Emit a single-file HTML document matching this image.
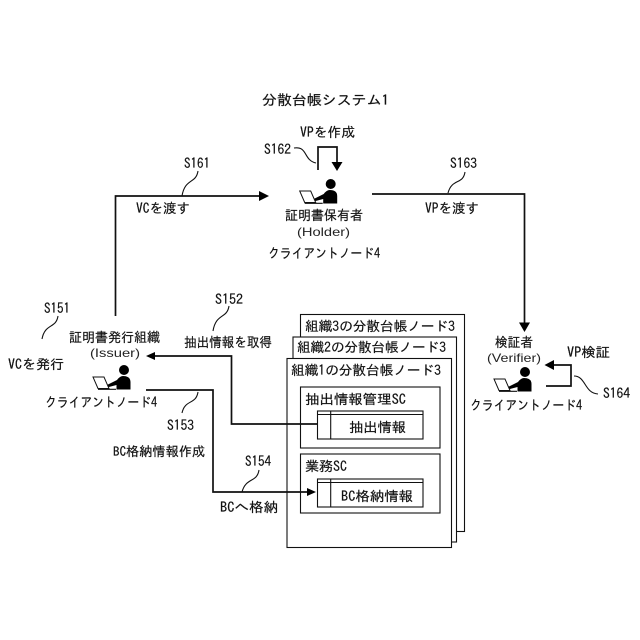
<!DOCTYPE html>
<html lang="ja">
<head>
<meta charset="utf-8">
<style>
html,body{margin:0;padding:0;background:#fff;width:640px;height:640px;overflow:hidden}
svg{display:block}
text{font-family:"IPAGothic","Noto Sans CJK JP","Liberation Sans",sans-serif;font-size:13.5px;fill:#111;stroke:#111;stroke-width:.2}
text.w{font-family:"Liberation Sans","Noto Sans CJK JP",sans-serif;font-size:12px;fill:#222;stroke:none}
.l{fill:none;stroke:#111;stroke-width:1.7}
.t{fill:none;stroke:#111;stroke-width:1.1}
.b{fill:#fff;stroke:#111;stroke-width:1.1}
</style>
</head>
<body>
<svg width="640" height="640" viewBox="0 0 640 640" xmlns="http://www.w3.org/2000/svg">
<defs>
<g id="p">
<circle cx="0" cy="0" r="5" fill="#000"/>
<path d="M-1,6 Q6.5,6 6.5,12 L6.5,19.5 L-7.5,19.5 L-7.5,15 L-17,17.5 L-17,15 L-7,10 Q-4,6 -1,6Z" fill="#000"/>
<path d="M-31,7 L-20,7 L-15,18.5 L-26,18.5 Z" fill="#fff" stroke="#111" stroke-width="1"/>
<path d="M-26,19.3 L-8,19.3" stroke="#111" stroke-width="1.2"/>
</g>
</defs>
<rect width="640" height="640" fill="#fff"/>

<!-- ledger boxes -->
<rect class="b" x="300.5" y="314.5" width="164" height="217"/>
<rect class="b" x="293" y="337" width="163.5" height="205"/>
<rect class="b" x="287" y="358.5" width="164.5" height="189"/>
<rect class="b" x="300.5" y="387" width="139.5" height="61"/>
<rect class="b" x="300.5" y="454" width="139.5" height="59"/>
<rect class="b" x="317.5" y="411" width="105.5" height="28"/>
<rect class="b" x="317.5" y="479" width="105.5" height="28"/>
<path class="t" d="M317.5,414.5H423M330.7,411V439M317.5,482.5H423M330.7,479V507"/>

<!-- connectors -->
<path class="l" d="M115.5,316V196H260"/>
<path d="M269,196L259,191V201Z" fill="#000"/>
<path class="l" d="M372,194H524.5V324"/>
<path d="M524.5,332L519,322.5H530Z" fill="#000"/>
<path class="l" d="M318,170V147H337V164"/>
<path d="M337,171L331.5,162H342.5Z" fill="#000"/>
<path class="l" d="M546,386H571V365H552"/>
<path d="M544.5,365L554,360V370Z" fill="#000"/>
<path class="l" d="M317,424H231.5V356H153"/>
<path d="M146,356L155,352V360Z" fill="#000"/>
<path class="l" d="M146,390H213V492H308"/>
<path d="M316,492L307,488V496Z" fill="#000"/>

<!-- leader squiggles -->
<path class="t" d="M198,171C196,184 185,178 182,196"/>
<path class="t" d="M294,148C308,146 303,160 316,163"/>
<path class="t" d="M465,172C463,185 452,178 448,193"/>
<path class="t" d="M574,376C586,376 584,393 598,394"/>
<path class="t" d="M58,316C56,329 45,323 42,339"/>
<path class="t" d="M229,306C227,319 216,313 213,331"/>
<path class="t" d="M198,392C196,405 185,399 182,413"/>
<path class="t" d="M259,470C257,483 246,477 242,492"/>

<!-- people -->
<use href="#p" x="330.7" y="184"/>
<use href="#p" x="124" y="370"/>
<use href="#p" x="525" y="372"/>

<!-- labels -->
<text x="262" y="105" textLength="127" lengthAdjust="spacingAndGlyphs" style="font-size:14px">分散台帳システム1</text>
<text x="300" y="137" textLength="55" lengthAdjust="spacingAndGlyphs">VPを作成</text>
<text x="264" y="154" textLength="27" lengthAdjust="spacingAndGlyphs">S162</text>
<text x="184" y="168" textLength="26" lengthAdjust="spacingAndGlyphs">S161</text>
<text x="450" y="168" textLength="27" lengthAdjust="spacingAndGlyphs">S163</text>
<text x="136" y="213" textLength="54" lengthAdjust="spacingAndGlyphs">VCを渡す</text>
<text x="425" y="213" textLength="54" lengthAdjust="spacingAndGlyphs">VPを渡す</text>
<text x="285" y="220" textLength="78" lengthAdjust="spacingAndGlyphs">証明書保有者</text>
<text class="w" x="297" y="236" textLength="53" lengthAdjust="spacingAndGlyphs">(Holder)</text>
<text x="268" y="258" textLength="112" lengthAdjust="spacingAndGlyphs">クライアントノード4</text>

<text x="44" y="313" textLength="26" lengthAdjust="spacingAndGlyphs">S151</text>
<text x="8" y="369" textLength="56" lengthAdjust="spacingAndGlyphs">VCを発行</text>
<text x="69" y="342" textLength="91" lengthAdjust="spacingAndGlyphs">証明書発行組織</text>
<text class="w" x="90" y="357" textLength="50" lengthAdjust="spacingAndGlyphs">(Issuer)</text>
<text x="45" y="407" textLength="112" lengthAdjust="spacingAndGlyphs">クライアントノード4</text>
<text x="215" y="304" textLength="28" lengthAdjust="spacingAndGlyphs">S152</text>
<text x="184" y="347" textLength="88" lengthAdjust="spacingAndGlyphs">抽出情報を取得</text>
<text x="167" y="430" textLength="27" lengthAdjust="spacingAndGlyphs">S153</text>
<text x="113" y="456" textLength="92" lengthAdjust="spacingAndGlyphs" style="font-size:13px">BC格納情報作成</text>
<text x="245" y="466" textLength="26" lengthAdjust="spacingAndGlyphs">S154</text>
<text x="220" y="512" textLength="58" lengthAdjust="spacingAndGlyphs">BCへ格納</text>

<text x="305" y="331" textLength="150" lengthAdjust="spacingAndGlyphs">組織3の分散台帳ノード3</text>
<text x="297" y="352" textLength="149" lengthAdjust="spacingAndGlyphs">組織2の分散台帳ノード3</text>
<text x="291" y="375" textLength="150" lengthAdjust="spacingAndGlyphs">組織1の分散台帳ノード3</text>
<text x="305" y="404" textLength="101" lengthAdjust="spacingAndGlyphs">抽出情報管理SC</text>
<text x="349" y="432" textLength="57" lengthAdjust="spacingAndGlyphs">抽出情報</text>
<text x="305" y="471" textLength="42" lengthAdjust="spacingAndGlyphs">業務SC</text>
<text x="341" y="501" textLength="72" lengthAdjust="spacingAndGlyphs">BC格納情報</text>

<text x="495" y="347" textLength="38" lengthAdjust="spacingAndGlyphs">検証者</text>
<text class="w" x="487" y="362" textLength="54" lengthAdjust="spacingAndGlyphs">(Verifier)</text>
<text x="567" y="357" textLength="43" lengthAdjust="spacingAndGlyphs">VP検証</text>
<text x="603" y="398" textLength="27" lengthAdjust="spacingAndGlyphs">S164</text>
<text x="470" y="410" textLength="112" lengthAdjust="spacingAndGlyphs">クライアントノード4</text>
</svg>
</body>
</html>
